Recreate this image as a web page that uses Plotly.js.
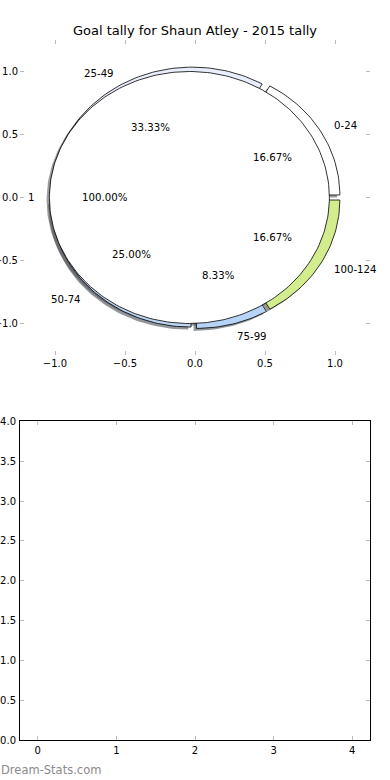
<!DOCTYPE html>
<html><head><meta charset="utf-8">
<script src="https://cdn.plot.ly/plotly-3.0.1.min.js"></script>
<style>html,body{margin:0;padding:0;background:#fff}</style>
</head><body><div id="chart" style="width:390px;height:780px"></div>
<script>
// ---- data ----
const chartTitle = 'Goal tally for Shaun Atley - 2015 tally';
const outerLabels = ['0-24', '25-49', '50-74', '75-99', '100-124'];
const outerValues = [2, 4, 3, 1, 2];
const outerColors = ['#ffffff', '#e8eefb', '#bcd6f3', '#b6d4f8', '#d2ec8e'];
const innerLabels = ['1'];
const innerValues = [12];
const innerColors = ['#ffffff'];
const watermark = 'Dream-Stats.com';

// ---- pie geometry (matplotlib-style: start 0 deg, counter-clockwise) ----
const explode = 0.04, radius = 1.0, labelDist = 1.1, pctDist = 0.6;
const shadowOff = -0.02;

function wedges(values) {
  const total = values.reduce((a, b) => a + b, 0);
  let a = 0; const out = [];
  values.forEach(v => {
    const span = 360 * v / total;
    const mid = (a + span / 2) * Math.PI / 180;
    out.push({a0: a, a1: a + span, mid: mid, frac: v / total,
              cx: explode * Math.cos(mid), cy: explode * Math.sin(mid)});
    a += span;
  });
  return out;
}
function poly(w, ox, oy) {
  const xs = [], ys = [];
  const full = (w.a1 - w.a0) >= 359.999;
  if (!full) { xs.push(w.cx + ox); ys.push(w.cy + oy); }
  const n = Math.max(8, Math.ceil((w.a1 - w.a0) / 1.5));
  for (let i = 0; i <= n; i++) {
    const t = (w.a0 + (w.a1 - w.a0) * i / n) * Math.PI / 180;
    xs.push(w.cx + ox + radius * Math.cos(t));
    ys.push(w.cy + oy + radius * Math.sin(t));
  }
  xs.push(xs[0]); ys.push(ys[0]);
  return {x: xs, y: ys};
}
function shade(hex) {
  const r = parseInt(hex.slice(1, 3), 16), g = parseInt(hex.slice(3, 5), 16), b = parseInt(hex.slice(5, 7), 16);
  return `rgba(${Math.round(r * 0.3)},${Math.round(g * 0.3)},${Math.round(b * 0.3)},0.55)`;
}

const ow = wedges(outerValues), iw = wedges(innerValues);
const traces = [];
// shadows
[[ow, outerColors], [iw, innerColors]].forEach(([ws, cols]) => {
  ws.forEach((w, i) => {
    const p = poly(w, shadowOff, shadowOff);
    traces.push({type: 'scatter', mode: 'lines', x: p.x, y: p.y, fill: 'toself',
      fillcolor: shade(cols[i]), line: {width: 0}, hoverinfo: 'skip', showlegend: false, xaxis: 'x', yaxis: 'y'});
  });
});
// wedges: outer then inner
[[ow, outerColors], [iw, innerColors]].forEach(([ws, cols]) => {
  ws.forEach((w, i) => {
    const p = poly(w, 0, 0);
    traces.push({type: 'scatter', mode: 'lines', x: p.x, y: p.y, fill: 'toself',
      fillcolor: cols[i], line: {width: 0.8, color: '#000'}, hoverinfo: 'skip', showlegend: false, xaxis: 'x', yaxis: 'y'});
  });
});
// empty bottom axes
traces.push({type: 'scatter', x: [], y: [], xaxis: 'x2', yaxis: 'y2', showlegend: false});

const txtFont = {family: 'DejaVu Sans', size: 10.2, color: '#000'};
const annotations = [];
[[ow, outerLabels], [iw, innerLabels]].forEach(([ws, labs]) => {
  ws.forEach((w, i) => {
    const lx = w.cx + labelDist * radius * Math.cos(w.mid);
    const ly = w.cy + labelDist * radius * Math.sin(w.mid);
    annotations.push({x: lx, y: ly, xref: 'x', yref: 'y', text: labs[i], showarrow: false, borderpad: 0,
      xanchor: lx > 0 ? 'left' : 'right', yanchor: 'middle', font: txtFont});
    const px = w.cx + pctDist * radius * Math.cos(w.mid);
    const py = w.cy + pctDist * radius * Math.sin(w.mid);
    annotations.push({x: px, y: py, xref: 'x', yref: 'y', text: (w.frac * 100).toFixed(2) + '%', showarrow: false,
      borderpad: 0, xanchor: 'center', yanchor: 'middle', font: txtFont});
  });
});
annotations.push({x: -20 / 350, y: -30 / 700, xref: 'paper', yref: 'paper', text: watermark, showarrow: false,
  borderpad: 0, xanchor: 'left', yanchor: 'middle', font: {family: 'DejaVu Sans', size: 11.5, color: '#8a8a8a'}});

const tickFont = {family: 'DejaVu Sans', size: 10, color: '#000'};
const axBase = {ticks: 'inside', ticklen: 4, tickwidth: 1, tickcolor: '#bbbbbb', showgrid: false,
  zeroline: false, tickfont: tickFont, fixedrange: true, ticklabelstandoff: 1};

const layout = {
  width: 390, height: 780,
  margin: {l: 20, r: 20, t: 40, b: 40},
  paper_bgcolor: '#fff', plot_bgcolor: 'rgba(0,0,0,0)',
  title: {text: chartTitle, x: 0.5, xanchor: 'center', y: 1 - 30 / 780, yanchor: 'middle',
    font: {family: 'DejaVu Sans', size: 13, color: '#000'}},
  showlegend: false,
  xaxis: Object.assign({}, axBase, {domain: [0, 1], anchor: 'y', range: [-1.25, 1.25],
    tickvals: [-1, -0.5, 0, 0.5, 1], tickformat: '.1f', showline: false, mirror: 'ticks'}),
  yaxis: Object.assign({}, axBase, {domain: [0.55, 1], anchor: 'x', range: [-1.25, 1.25],
    tickvals: [-1, -0.5, 0, 0.5, 1], tickformat: '.1f', showline: false, mirror: 'ticks'}),
  xaxis2: Object.assign({}, axBase, {domain: [0, 1], anchor: 'y2', range: [-0.225, 4.225],
    tickvals: [0, 1, 2, 3, 4], showline: true, linecolor: '#000', linewidth: 1, mirror: 'ticks'}),
  yaxis2: Object.assign({}, axBase, {domain: [0, 0.4551], anchor: 'x2', range: [0, 4],
    tickvals: [0, 0.5, 1, 1.5, 2, 2.5, 3, 3.5, 4], tickformat: '.1f', showline: true, linecolor: '#000', linewidth: 1, mirror: 'ticks'}),
  annotations: annotations
};
Plotly.newPlot('chart', traces, layout, {displayModeBar: false, staticPlot: true});
</script>
</body></html>
